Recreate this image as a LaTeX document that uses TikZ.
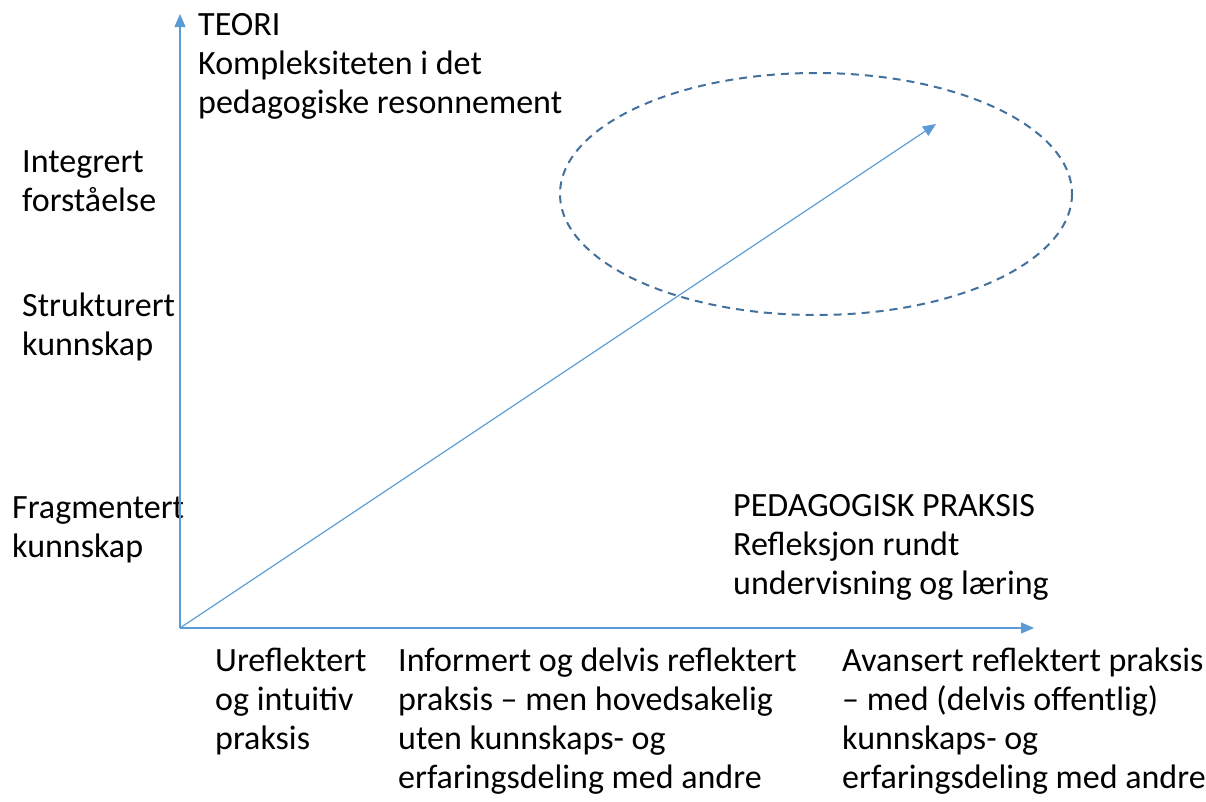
\documentclass[tikz,border=0pt]{standalone}
\usepackage{fontspec}
\setmainfont{Carlito}
\usetikzlibrary{arrows.meta}
\definecolor{akse}{HTML}{5B9BD5}
\definecolor{ring}{HTML}{41719C}
\tikzset{
  tekst/.style={anchor=base west, align=left, inner sep=0pt, font=\fontsize{34}{39}\selectfont},
  pil/.style={draw=akse, line width=1.2pt, -{Triangle[length=13pt,width=11pt]}}
}

\begin{document}
\begin{tikzpicture}[x=1pt,y=-1pt]
    \useasboundingbox (0,0) rectangle (1206,801);
    \coordinate (O) at (180,628);
    \coordinate (ytopp) at (180,14);
    \coordinate (xende) at (1034,628);
    \coordinate (mål) at (936,124);
    % base = baseline of the last line
    \node[tekst] (teori) at (198,113) {TEORI\\Kompleksiteten i det\\pedagogiske resonnement};
    \node[tekst] (integrert) at (22,211) {Integrert\\forståelse};
    \node[tekst] (strukturert) at (22,355) {Strukturert\\kunnskap};
    \node[tekst] (fragmentert) at (12,557) {Fragmentert\\kunnskap};
    \node[tekst] (praksis) at (733,594) {PEDAGOGISK PRAKSIS\\Refleksjon rundt\\undervisning og læring};
    \node[tekst] (urefl) at (215,749) {Ureflektert\\og intuitiv\\praksis};
    \node[tekst] (informert) at (398,788) {Informert og delvis reflektert\\praksis -- men hovedsakelig\\uten kunnskaps- og\\erfaringsdeling med andre};
    \node[tekst] (avansert) at (842,788) {Avansert reflektert praksis\\-- med (delvis offentlig)\\kunnskaps- og\\erfaringsdeling med andre};
    \draw[ring, line width=2pt, dash pattern=on 8pt off 6pt] (816,194) ellipse (256 and 121);
    \draw[pil] (O) -- (ytopp);
    \draw[pil] (O) -- (xende);
    \draw[pil] (O) -- (mål);
\end{tikzpicture}
\end{document}
